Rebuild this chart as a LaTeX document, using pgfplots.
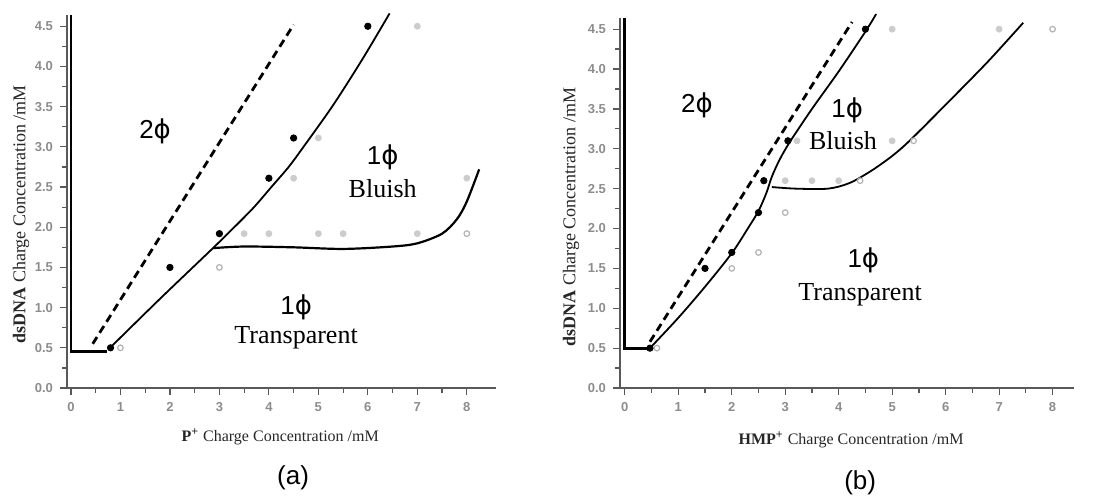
\documentclass[border=0pt]{standalone}
\usepackage{pgfplots}
\pgfplotsset{compat=1.18}
\usepackage{fontspec}
\setmainfont{Liberation Serif}
\setsansfont{Liberation Sans}
\newfontfamily\phifont{DejaVu Sans}
\newcommand{\ph}{{\phifont ϕ}}

\pgfplotsset{
 phase/.style={
  scale only axis,
  axis x line*=bottom, axis y line*=left,
  axis line style={-, gray!70!black, line width=0.9pt},
  x axis line style={-}, y axis line style={-},
  tick style={gray!70!black, line width=0.6pt},
  tick align=outside,
  major tick length=3.5pt, minor tick length=2.5pt,
  xtick={0,1,2,3,4,5,6,7,8}, minor x tick num=1,
  ytick={0,0.5,1,1.5,2,2.5,3,3.5,4,4.5}, minor y tick num=1,
  ymin=0, ymax=4.64,
  tick label style={font=\sffamily\bfseries\fontsize{6.5}{7}\selectfont, text=gray!90},
  /pgf/number format/assume math mode=true,
  yticklabel style={/pgf/number format/.cd, fixed, fixed zerofill, precision=1},
  xticklabel style={/pgf/number format/.cd, fixed, precision=0},
  xlabel style={font=\fontsize{8}{9}\selectfont, anchor=center, text=black!85},
  ylabel style={font=\fontsize{9}{10}\selectfont, anchor=center, text=black!85},
  clip=false,
 },
 bdot/.style={only marks, mark=*, mark size=1.6pt, black},
 gdot/.style={only marks, mark=*, mark size=1.5pt, color=gray!40, mark options={draw=gray!40, fill=gray!40}},
 odot/.style={only marks, mark=o, mark size=1.4pt, color=gray!60, mark options={line width=0.6pt}},
 dline/.style={black, line width=1.4pt, dash pattern=on 4pt off 2.5pt},
 sline/.style={black, line width=0.9pt},
}
\tikzset{lbl/.style={font=\fontsize{13}{15}\selectfont, anchor=center}}

\begin{document}
\begin{tikzpicture}
\path[use as bounding box] (0,0) rectangle (547pt,247.5pt);

% ---------------- panel (a)
\begin{axis}[phase, at={(33.5pt,53.5pt)}, anchor=south west,
  width=214.5pt, height=186.5pt, xmin=-0.08, xmax=8.59,
  xlabel={\textbf{P\textsuperscript{+}} Charge Concentration /mM},
  ylabel={\textbf{dsDNA} Charge Concentration /mM},
  xlabel style={at={(axis description cs:0.497,-0.131)}},
  ylabel style={at={(axis description cs:-0.107,0.466)}},
]
\addplot[black, line width=1.4pt] coordinates {(0,4.64) (0,0.45) (0.73,0.45)};
\addplot[sline, smooth, tension=0.5] coordinates {(0.79,0.5) (1.8,1.11) (2.87,1.74) (3.3,2.0) (3.7,2.25) (4.05,2.5) (4.4,2.75) (4.7,3.0) (5.3,3.52) (5.9,4.1) (6.44,4.66)};
\addplot[black, line width=1.1pt, smooth, tension=0.5] coordinates {(2.87,1.74) (3.5,1.76) (4.5,1.75) (5.5,1.73) (6.5,1.76) (7.0,1.8) (7.5,1.92) (7.8,2.1) (8.0,2.32) (8.25,2.72)};
\addplot[dline] coordinates {(0.44,0.55) (4.5,4.52)};
\addplot[gdot] coordinates {(3.5,1.92) (4,1.92) (5,1.92) (5.5,1.92) (7,1.92) (4.5,2.61) (5,3.11) (7,4.5) (8,2.61)};
\addplot[odot] coordinates {(1,0.5) (3,1.5) (8,1.92)};
\addplot[bdot] coordinates {(0.8,0.5) (2,1.5) (3,1.92) (4,2.61) (4.5,3.11) (6,4.5)};
\node[lbl] at (axis cs:1.7,3.19) {{\sffamily 2}\ph};
\node[lbl] at (axis cs:6.3,2.87) {{\sffamily 1}\ph};
\node[lbl] at (axis cs:6.3,2.48) {Bluish};
\node[lbl] at (axis cs:4.55,1.0) {{\sffamily 1}\ph};
\node[lbl] at (axis cs:4.55,0.62) {Transparent};
\node[font=\sffamily\fontsize{13}{15}\selectfont] at (axis description cs:0.527,-0.241) {(a)};
\end{axis}

% ---------------- panel (b)
\begin{axis}[phase, at={(310pt,53.5pt)}, anchor=south west,
  width=227pt, height=185pt, xmin=-0.09, xmax=8.4,
  xlabel={\textbf{HMP\textsuperscript{+}} Charge Concentration /mM},
  ylabel={\textbf{dsDNA} Charge Concentration /mM},
  xlabel style={at={(axis description cs:0.509,-0.14)}},
  ylabel style={at={(axis description cs:-0.108,0.462)}},
]
\addplot[black, line width=1.4pt] coordinates {(0,4.64) (0,0.5) (0.47,0.5)};
\addplot[sline, smooth, tension=0.5] coordinates {(0.47,0.5) (1.0,0.88) (1.5,1.27) (2.0,1.69) (2.3,2.0) (2.5,2.22) (2.65,2.45) (2.75,2.65) (2.9,2.87) (3.1,3.1) (3.5,3.5) (4.0,3.97) (4.5,4.47) (4.7,4.69)};
\addplot[sline, smooth, tension=0.5] coordinates {(2.75,2.52) (3.2,2.5) (3.8,2.5) (4.2,2.57) (4.6,2.72) (5.0,2.91) (5.34,3.11) (6.1,3.62) (6.8,4.1) (7.45,4.58)};
\addplot[dline] coordinates {(0.47,0.58) (4.25,4.59)};
\addplot[gdot] coordinates {(3,2.6) (3.5,2.6) (4,2.6) (3.22,3.1) (5,4.5) (7,4.5) (5,3.1)};
\addplot[odot] coordinates {(0.6,0.5) (2,1.5) (2.5,1.7) (3,2.2) (4.4,2.6) (5.4,3.1) (8,4.5)};
\addplot[bdot] coordinates {(0.47,0.5) (1.5,1.5) (2,1.7) (2.5,2.2) (2.6,2.6) (3.05,3.1) (4.5,4.5)};
\node[lbl] at (axis cs:1.35,3.55) {{\sffamily 2}\ph};
\node[lbl] at (axis cs:4.16,3.48) {{\sffamily 1}\ph};
\node[lbl] at (axis cs:4.08,3.1) {Bluish};
\node[lbl] at (axis cs:4.46,1.6) {{\sffamily 1}\ph};
\node[lbl] at (axis cs:4.4,1.17) {Transparent};
\node[font=\sffamily\fontsize{13}{15}\selectfont] at (axis description cs:0.529,-0.257) {(b)};
\end{axis}
\end{tikzpicture}
\end{document}
